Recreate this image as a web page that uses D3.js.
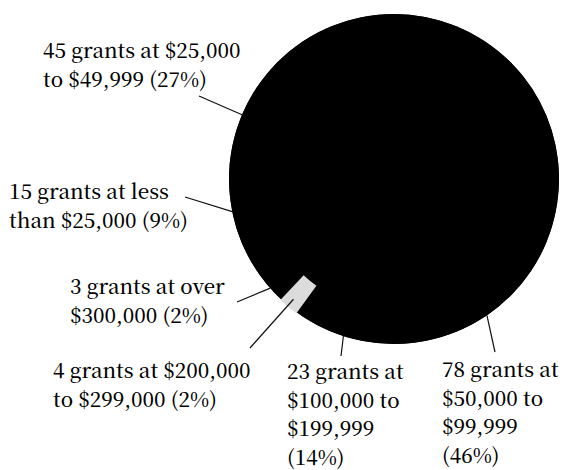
<!DOCTYPE html>
<html>
<head>
<meta charset="utf-8">
<script src="https://cdn.jsdelivr.net/npm/d3@7"></script>
<style>
  body { margin: 0; background: #fff; }
  svg { display: block; }
</style>
</head>
<body>
<svg id="chart" width="566" height="470"></svg>
<script>
"use strict";

// slices, clockwise from 12 o'clock
const grants = [78, 23, 4, 3, 15, 45];
const shares = [46, 14, 2, 2, 9, 27];
const labelLines = [
  ["78 grants at", "$50,000 to", "$99,999", "(46%)"],
  ["23 grants at", "$100,000 to", "$199,999", "(14%)"],
  ["4 grants at $200,000", "to $299,000 (2%)"],
  ["3 grants at over", "$300,000 (2%)"],
  ["15 grants at less", "than $25,000 (9%)"],
  ["45 grants at $25,000", "to $49,999 (27%)"]
];

const width = 566, height = 470;
const cx = 394, cy = 179, radius = 165;

// label placement: text origin (first baseline), leader end, where along the slice the leader hits
const labelPos = [
  { x: 442, y: 377, lx: 495, ly: 352, f: 0.88 },
  { x: 287, y: 379, lx: 341, ly: 356, f: 0.64 },
  { x: 53,  y: 378, lx: 250, ly: 348, f: 0.54, r: 0.95 },
  { x: 70,  y: 294, lx: 237, ly: 302, f: 0.75 },
  { x: 9,   y: 199, lx: 185, ly: 197, f: 0.87 },
  { x: 43,  y: 58,  lx: 199, ly: 96,  f: 0.31 }
];
const lineGap = 28.5;
const serifFont = d => '"Noto Serif CJK SC", "Liberation Serif", monospace';

const svg = d3.select("#chart");
const g = svg.append("g").attr("transform", `translate(${cx},${cy})`);

const pie = d3.pie().sort(null).startAngle(0).endAngle(2 * Math.PI);
const arcs = pie(shares);
const arc = d3.arc().innerRadius(0).outerRadius(radius);

// solid disc underneath so the slice seams don't show
g.append("circle").attr("r", radius).attr("fill", "#000");

g.selectAll("path.slice")
    .data(arcs)
  .enter().append("path")
    .attr("class", "slice")
    .attr("d", arc)
    .attr("fill", "#000");

// the small $200k-$299k slice reads as a pale screened patch near the rim
const paleArc = d3.arc().innerRadius(radius * 0.8).outerRadius(radius + 1);
g.append("path")
    .attr("d", paleArc(arcs[2]))
    .attr("fill", "#dcdcdc");

// leaders
const leaders = svg.append("g");
arcs.forEach((d, i) => {
  const p = labelPos[i];
  const a = d.startAngle + p.f * (d.endAngle - d.startAngle);
  const rr = radius * (p.r || 1);
  const x0 = cx + rr * Math.sin(a), y0 = cy - rr * Math.cos(a);
  leaders.append("line")
      .attr("x1", x0).attr("y1", y0)
      .attr("x2", p.lx).attr("y2", p.ly)
      .attr("stroke", "#111")
      .attr("stroke-width", 1.2);
});

// labels, one text per line
labelLines.forEach((lines, i) => {
  const p = labelPos[i];
  svg.selectAll(null)
      .data(lines)
    .enter().append("text")
      .style("font-family", serifFont)
      .style("font-size", "20.5px")
      .style("font-weight", 500)
      .attr("fill", "#000")
      .attr("x", p.x)
      .attr("y", (d, j) => p.y + j * lineGap)
      .text(d => d);
});
</script>
</body>
</html>
